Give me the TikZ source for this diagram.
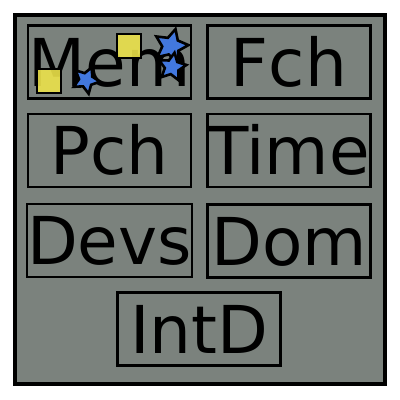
\documentclass[tikz,border=0pt]{standalone}
\usepackage{fontspec}
\setmainfont{DejaVu Sans}
\usetikzlibrary{shapes.geometric}
\definecolor{panelgray}{RGB}{123,130,125}
\definecolor{noteyellow}{RGB}{236,226,74}
\definecolor{starblue}{RGB}{66,120,222}
\begin{document}
\begin{tikzpicture}[x=1pt,y=-1pt,
  frame/.style={draw=black, line width=3.5pt, fill=panelgray, minimum width=370pt, minimum height=369pt, inner sep=0pt},
  cell/.style={draw=black, line width=2.2pt, minimum width=163pt, minimum height=73pt, inner sep=0pt,
    font=\fontsize{66}{78}\selectfont, text height=48pt, text depth=0pt},
  sticky/.style={draw=black, line width=2.4pt, fill=noteyellow, fill opacity=0.9, minimum size=24pt, inner sep=0pt},
  badge/.style={star, star points=5, star point ratio=2.0, draw=black, line width=2.6pt, fill=starblue, inner sep=0pt}]
\useasboundingbox (0,0) rectangle (400,400);
% outer panel
\node[frame] (panel) at (200,199.5) {};
% grid of labelled cells
\node[cell] (mem)  at (109.5,62)  {Mem};
\node[cell] (fch)  at (289,62)    {Fch};
\node[cell] (pch)  at (109.5,150.5) {Pch};
\node[cell] (time) at (289,150.5) {Time};
\node[cell] (devs) at (109.5,240.5) {Devs};
\node[cell] (dom)  at (289,241)   {Dom};
\node[cell] (intd) at (199,329)   {IntD};
% sticky notes and stars on the first cell
\node[sticky] (noteA) at (49,81) {};
\node[sticky] (noteB) at (129,46) {};
\node[badge, minimum size=28pt, rotate=-25] (starA) at (86,80) {};
\node[badge, minimum size=35pt, rotate=-15] (starB) at (171,46) {};
\node[badge, minimum size=29pt, rotate=-10] (starC) at (172,67) {};
\end{tikzpicture}
\end{document}
